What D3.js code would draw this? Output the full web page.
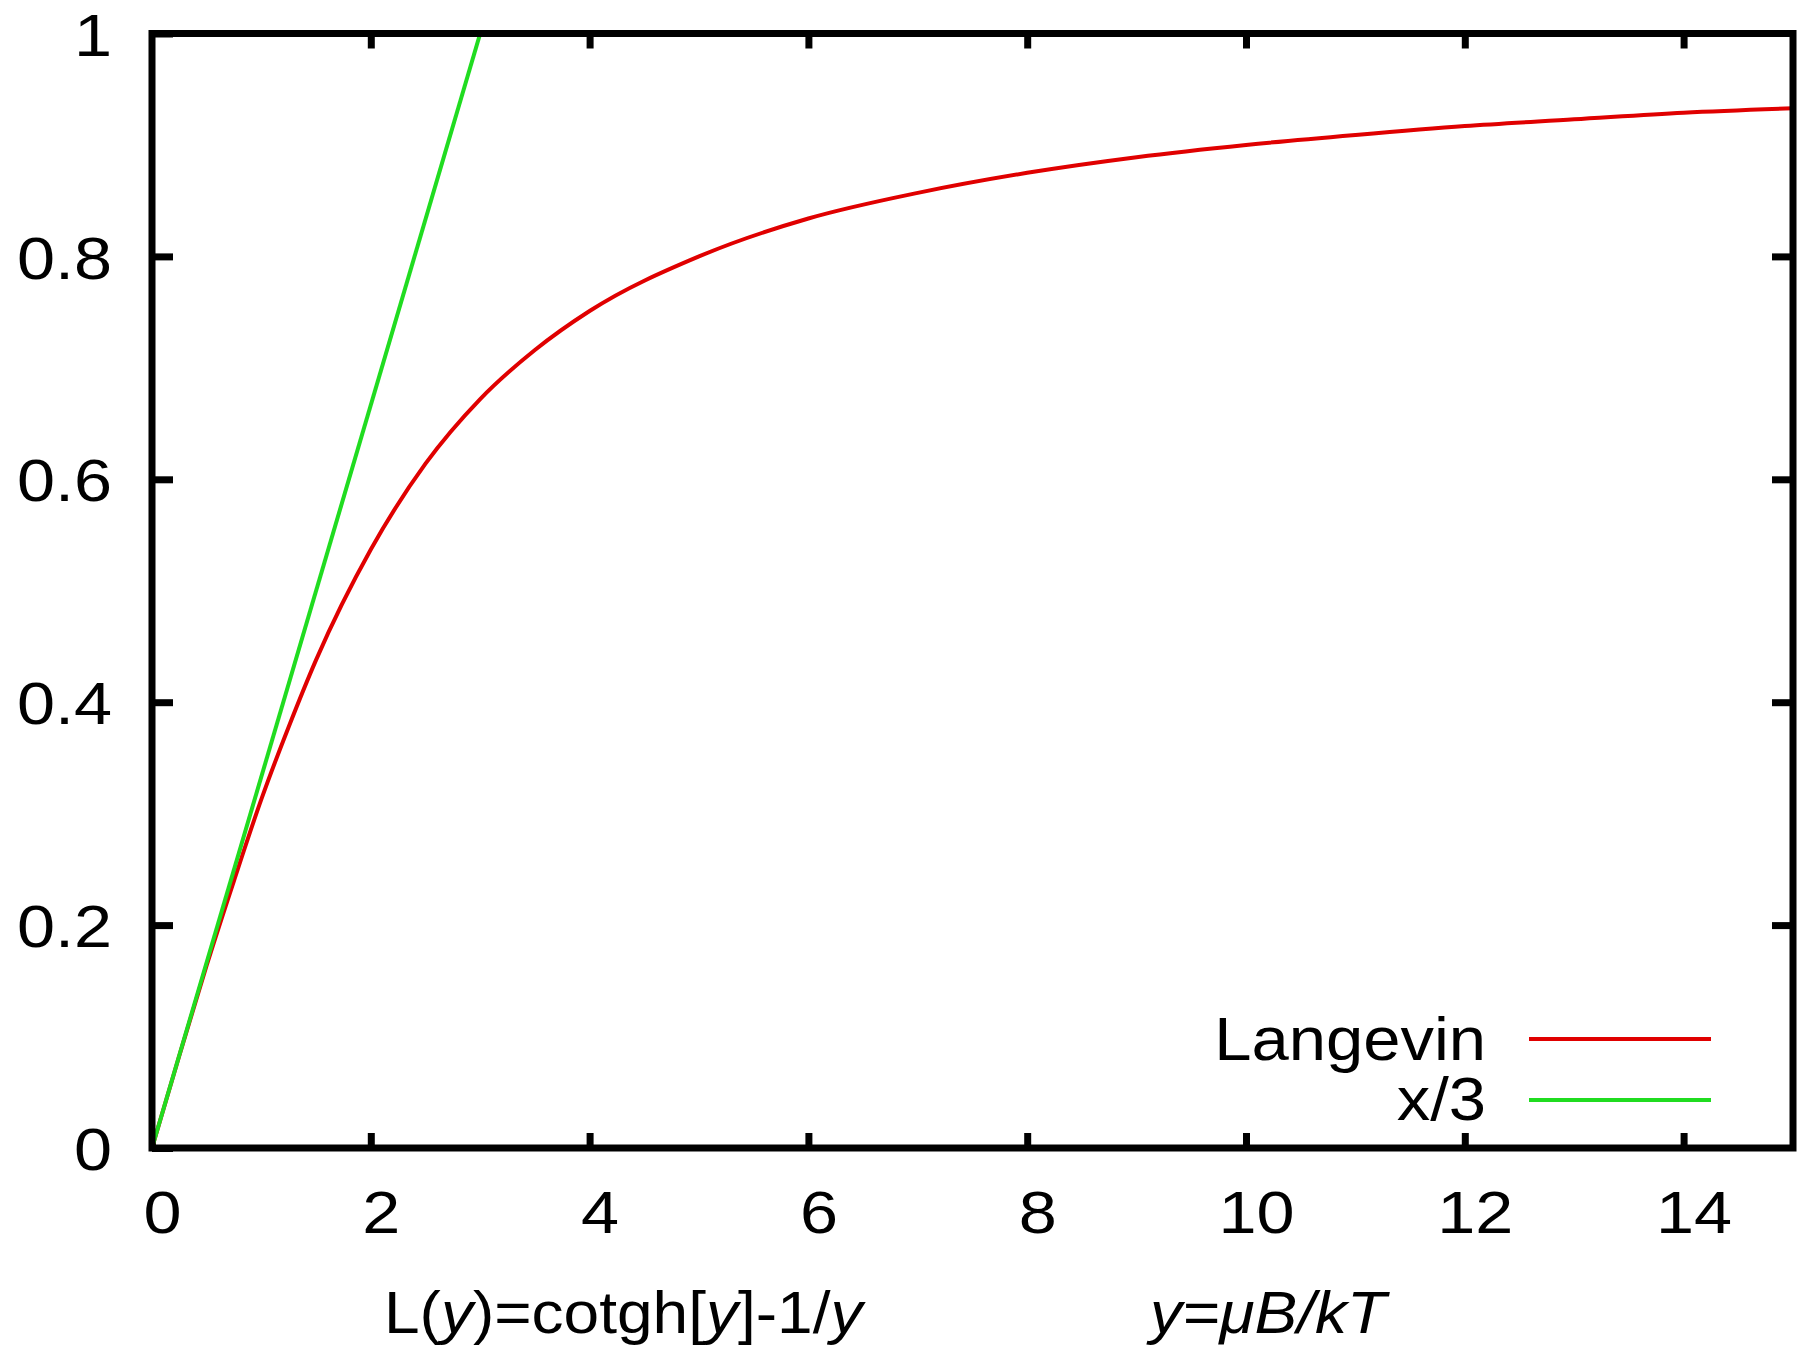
<!DOCTYPE html>
<html>
<head>
<meta charset="utf-8">
<script src="https://cdn.jsdelivr.net/npm/d3@7"></script>
<style>
  html, body { margin: 0; padding: 0; background: #fff; }
  text { font-family: "Liberation Sans", Arial, sans-serif; fill: #000; }
</style>
</head>
<body>
<div id="app"></div>
<script>
// values
const langevinX = [0, 0.25, 0.5, 0.75, 1, 1.25, 1.5, 2, 2.5, 3, 3.5, 4, 5, 6, 7, 8, 9, 10, 11, 12, 13, 14, 15];
const langevinY = [0, 0.083, 0.164, 0.240, 0.313, 0.378, 0.438, 0.537, 0.614, 0.672, 0.716, 0.751, 0.800, 0.834, 0.857, 0.875, 0.889, 0.900, 0.909, 0.917, 0.923, 0.929, 0.933];
const linearX = [0, 3];
const linearY = [0, 1];

const xTicks = [0, 2, 4, 6, 8, 10, 12, 14];
const yTicks = [0, 0.2, 0.4, 0.6, 0.8, 1];
const seriesNames = ["Langevin", "x/3"];
const seriesColors = ["#e00000", "#20dc20"];

const width = 1806, height = 1349;
const plotLeft = 152, plotRight = 1793, plotTop = 33.5, plotBottom = 1148;

const svg = d3.select("#app").append("svg")
  .attr("width", width)
  .attr("height", height);

svg.append("rect").attr("width", width).attr("height", height).attr("fill", "#fff");

const x = d3.scaleLinear().domain([0, 15]).range([plotLeft, plotRight]);
const y = d3.scaleLinear().domain([0, 1]).range([plotBottom, plotTop]);

// axes: ticks point inwards on all four sides
const fmt = d => d3.format("")(d);

const gB = svg.append("g").attr("transform", `translate(0,${plotBottom})`)
  .call(d3.axisBottom(x).tickValues(xTicks).tickSize(-15).tickSizeOuter(0).tickPadding(42).tickFormat(fmt));

const gT = svg.append("g").attr("transform", `translate(0,${plotTop})`)
  .call(d3.axisTop(x).tickValues(xTicks.slice(1)).tickSize(-15).tickSizeOuter(0).tickFormat(""));

const gL = svg.append("g").attr("transform", `translate(${plotLeft},0)`)
  .call(d3.axisLeft(y).tickValues(yTicks).tickSize(-21).tickSizeOuter(0).tickPadding(35).tickFormat(fmt));

const gR = svg.append("g").attr("transform", `translate(${plotRight},0)`)
  .call(d3.axisRight(y).tickValues(yTicks.slice(1, -1)).tickSize(-21).tickSizeOuter(0).tickFormat(""));

[gB, gT, gL, gR].forEach(g => {
  g.select(".domain").remove();
  g.selectAll(".tick line").attr("stroke", "#000").attr("stroke-width", 7);
  g.selectAll("text").attr("font-size", 60).attr("font-family", "Liberation Sans, Arial, sans-serif").attr("fill", "#000");
});
gB.selectAll("text").attr("transform", "translate(10,0) scale(1.14,1)");
gL.selectAll("text").attr("dy", "0.36em").attr("transform", "scale(1.14,1)");

// curves
svg.append("clipPath").attr("id", "plot")
  .append("rect").attr("x", plotLeft).attr("y", plotTop)
  .attr("width", plotRight - plotLeft).attr("height", plotBottom - plotTop);

const line = d3.line().x(d => x(d[0])).y(d => y(d[1])).curve(d3.curveMonotoneX);

svg.append("path")
  .datum(d3.zip(langevinX, langevinY))
  .attr("clip-path", "url(#plot)")
  .attr("fill", "none")
  .attr("stroke", seriesColors[0])
  .attr("stroke-width", 4)
  .attr("d", line);

svg.append("path")
  .datum(d3.zip(linearX, linearY))
  .attr("clip-path", "url(#plot)")
  .attr("fill", "none")
  .attr("stroke", seriesColors[1])
  .attr("stroke-width", 4)
  .attr("d", line);

// frame
svg.append("rect")
  .attr("x", plotLeft).attr("y", plotTop)
  .attr("width", plotRight - plotLeft).attr("height", plotBottom - plotTop)
  .attr("fill", "none")
  .attr("stroke", "#000")
  .attr("stroke-width", 7);

// legend
const legend = svg.append("g");
const rows = [1060, 1120];
const lineRows = [1039, 1100];
seriesNames.forEach((name, i) => {
  legend.append("text")
    .attr("transform", `translate(1486,${rows[i]}) scale(1.08,1)`)
    .attr("text-anchor", "end")
    .attr("font-size", 62)
    .text(name);
  legend.append("line")
    .attr("x1", 1529).attr("x2", 1711)
    .attr("y1", lineRows[i]).attr("y2", lineRows[i])
    .attr("stroke", seriesColors[i])
    .attr("stroke-width", 4);
});

// bottom formula labels
const f1 = svg.append("text")
  .attr("transform", "translate(384,1333) scale(1.067,1)")
  .attr("font-size", 60);
[["L(", false], ["y", true], [")=cotgh[", false], ["y", true], ["]-1/", false], ["y", true]].forEach(([t, it]) => {
  f1.append("tspan").attr("font-style", it ? "italic" : "normal").text(t);
});

svg.append("text")
  .attr("transform", "translate(1150,1333) scale(1.067,1)")
  .attr("font-size", 60)
  .attr("font-style", "italic")
  .text("y=μB/kT");
</script>
</body>
</html>
